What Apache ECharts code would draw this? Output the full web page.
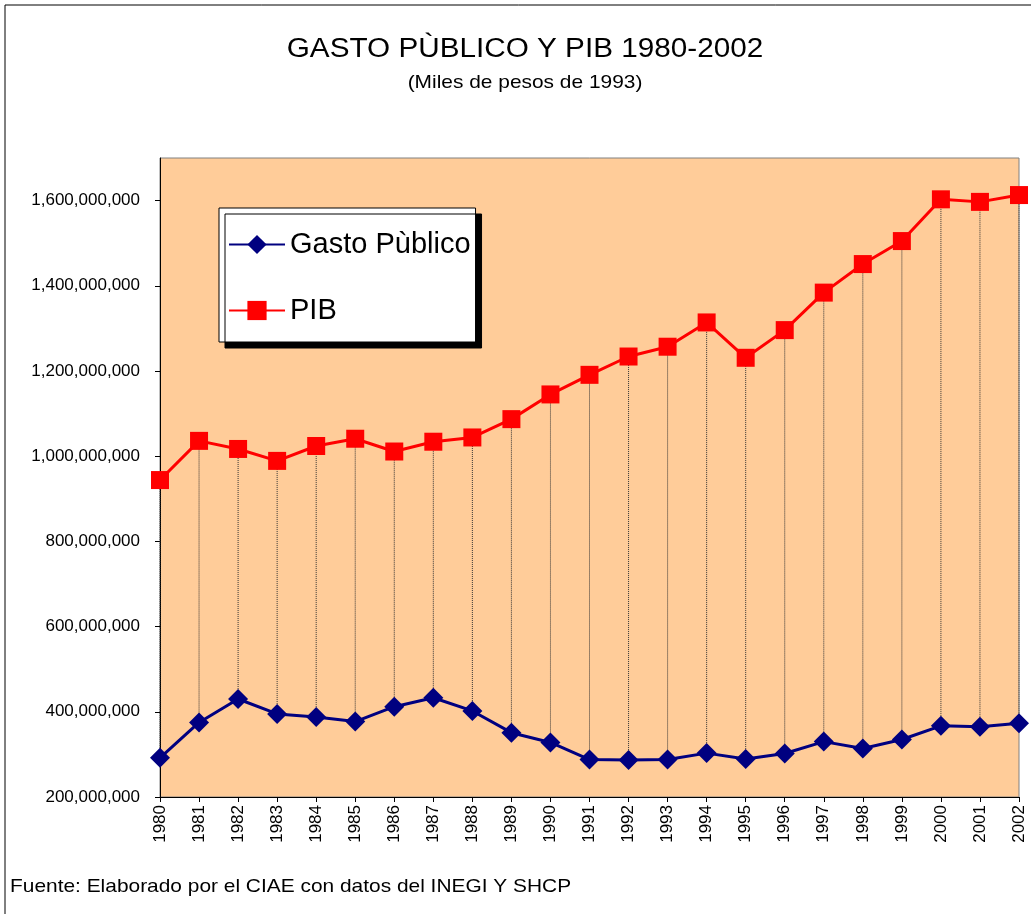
<!DOCTYPE html>
<html>
<head>
<meta charset="utf-8">
<script src="https://cdn.jsdelivr.net/npm/echarts@6/dist/echarts.min.js"></script>
<style>
  html, body { margin: 0; padding: 0; background: #fff; }
  #main { width: 1031px; height: 914px; }
</style>
</head>
<body>
<div id="main"></div>
<script>
var years = ['1980','1981','1982','1983','1984','1985','1986','1987','1988','1989','1990',
  '1991','1992','1993','1994','1995','1996','1997','1998','1999','2000','2001','2002'];
// valores (miles de pesos de 1993)
var gasto = [292e6, 375e6, 430e6, 395e6, 388e6, 377e6, 412e6, 433e6, 402e6, 351e6, 328e6,
  288e6, 287e6, 288e6, 303e6, 289e6, 302e6, 330e6, 314e6, 335e6, 367e6, 365e6, 373e6];
var pib = [944e6, 1036e6, 1017e6, 989e6, 1024e6, 1041e6, 1011e6, 1034e6, 1044e6, 1087e6, 1145e6,
  1191e6, 1234e6, 1257e6, 1314e6, 1231e6, 1296e6, 1384e6, 1451e6, 1505e6, 1603e6, 1597e6, 1613e6];

var myChart = echarts.init(document.getElementById('main'));

var font = 'Arial, "Liberation Sans", sans-serif';

var option = {
  animation: false,
  backgroundColor: '#fff',
  textStyle: { fontFamily: font },
  graphic: [{
    type: 'rect',
    shape: { x: 5, y: 5, width: 1100, height: 1000 },
    style: { fill: 'none', stroke: '#000', lineWidth: 1 },
    silent: true,
    z: 0
  }, {
    // titulo (texto un poco ensanchado como en el original)
    type: 'text',
    x: 525,
    y: 50,
    scaleX: 1.1,
    style: {
      text: 'GASTO PÙBLICO Y PIB 1980-2002',
      font: '27px Arial, "Liberation Sans", sans-serif',
      fill: '#000',
      align: 'center',
      verticalAlign: 'middle'
    }
  }, {
    type: 'text',
    x: 525,
    y: 83,
    scaleX: 1.1,
    style: {
      text: '(Miles de pesos de 1993)',
      font: '19px Arial, "Liberation Sans", sans-serif',
      fill: '#000',
      align: 'center',
      verticalAlign: 'middle'
    }
  }, {
    type: 'text',
    x: 10,
    y: 887,
    scaleX: 1.1,
    style: {
      text: 'Fuente: Elaborado por el CIAE con datos del INEGI Y SHCP',
      font: '19px Arial, "Liberation Sans", sans-serif',
      fill: '#000',
      verticalAlign: 'middle'
    }
  }],
  legend: {
    left: 219,
    top: 208,
    orient: 'vertical',
    data: ['Gasto Pùblico', 'PIB'],
    backgroundColor: '#fff',
    borderColor: '#000',
    borderWidth: 1,
    borderRadius: 0,
    shadowColor: '#000',
    shadowBlur: 0,
    shadowOffsetX: 6,
    shadowOffsetY: 6,
    padding: [22, 5, 17, 9],
    itemGap: 37,
    itemWidth: 56,
    itemHeight: 24,
    textStyle: { fontFamily: font, fontSize: 29, color: '#000' }
  },
  grid: {
    left: 160,
    top: 158,
    right: 12,
    bottom: 117,
    show: true,
    backgroundColor: '#FFCC99',
    borderColor: '#808080',
    borderWidth: 1
  },
  xAxis: {
    type: 'category',
    data: years,
    boundaryGap: false,
    axisLine: { lineStyle: { color: '#000', width: 1 } },
    axisTick: { alignWithLabel: true, length: 5, lineStyle: { color: '#000' } },
    axisLabel: { rotate: 90, fontSize: 17, color: '#000', margin: 8, interval: 0 },
    splitLine: { show: false }
  },
  yAxis: {
    type: 'value',
    min: 200000000,
    max: 1700000000,
    interval: 200000000,
    axisLine: { show: true, lineStyle: { color: '#000', width: 1 } },
    axisTick: { show: true, length: 5, lineStyle: { color: '#000' } },
    axisLabel: {
      fontSize: 17,
      color: '#000',
      margin: 20,
      showMaxLabel: false,
      formatter: function (v) {
        if (v > 1600000000) return '';
        return v.toLocaleString('en-US');
      }
    },
    splitLine: { show: false }
  },
  series: [{
    type: 'custom',
    name: 'drops',
    silent: true,
    z: 1,
    data: years.map(function (y, i) { return [i, gasto[i], pib[i]]; }),
    encode: { x: 0, y: [1, 2] },
    renderItem: function (params, api) {
      var a = api.coord([api.value(0), api.value(1)]);
      var b = api.coord([api.value(0), api.value(2)]);
      return {
        type: 'line',
        shape: { x1: a[0], y1: a[1], x2: b[0], y2: b[1] },
        style: { stroke: '#333', lineWidth: 1, lineDash: [1, 1] }
      };
    }
  }, {
    name: 'Gasto Pùblico',
    type: 'line',
    data: gasto,
    z: 3,
    symbol: 'diamond',
    symbolSize: 20,
    itemStyle: { color: '#000080' },
    lineStyle: { color: '#000080', width: 3 }
  }, {
    name: 'PIB',
    type: 'line',
    data: pib,
    z: 3,
    symbol: 'rect',
    symbolSize: 18,
    itemStyle: { color: '#FF0000' },
    lineStyle: { color: '#FF0000', width: 3 }
  }]
};

myChart.setOption(option);
</script>
</body>
</html>
